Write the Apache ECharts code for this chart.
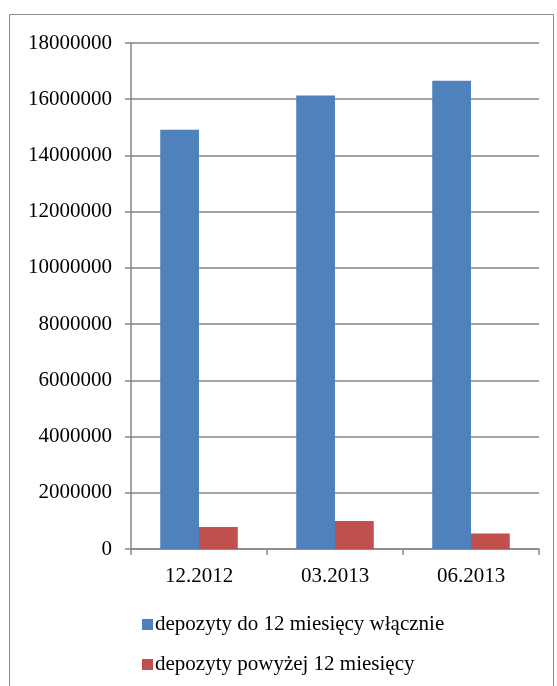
<!DOCTYPE html>
<html>
<head>
<meta charset="utf-8">
<script src="https://cdn.jsdelivr.net/npm/echarts@6/dist/echarts.min.js"></script>
<style>
  html, body { margin: 0; padding: 0; background: #fff; }
  #chart { width: 557px; height: 686px; }
</style>
</head>
<body>
<div id="chart"></div>
<script>
// Deposit volumes by reporting period
const categories = ['12.2012', '03.2013', '06.2013'];
const seriesNames = ['depozyty do 12 miesięcy włącznie', 'depozyty powyżej 12 miesięcy'];
const shortTerm = [14910000, 16130000, 16660000];
const longTerm = [780000, 1000000, 550000];
const yMin = 0, yMax = 18000000, yStep = 2000000;

const font = '"Liberation Serif", "Times New Roman", serif';
const axisGray = '#868686';

const chart = echarts.init(document.getElementById('chart'));
chart.setOption({
  animation: false,
  backgroundColor: '#ffffff',
  graphic: [{
    type: 'rect',
    shape: { x: 9.5, y: 14.5, width: 544, height: 700 },
    style: { fill: 'none', stroke: '#8a8a8a', lineWidth: 1 },
    silent: true
  }],
  grid: { left: 131, right: 18, top: 43, bottom: 137 },
  legend: {
    orient: 'vertical',
    left: 137,
    top: 609,
    itemWidth: 11,
    itemHeight: 11,
    itemGap: 19,
    icon: 'rect',
    textStyle: { fontFamily: font, fontSize: 21, color: '#000', padding: [0, 0, 0, -3] },
    data: seriesNames
  },
  xAxis: {
    type: 'category',
    data: categories,
    axisLine: { lineStyle: { color: axisGray, width: 1.5 } },
    axisTick: { show: true, length: 6, lineStyle: { color: axisGray, width: 1.5 } },
    axisLabel: { fontFamily: font, fontSize: 21, color: '#000', margin: 17 }
  },
  yAxis: {
    type: 'value',
    min: yMin,
    max: yMax,
    interval: yStep,
    axisLine: { show: true, lineStyle: { color: axisGray, width: 1.5 } },
    axisTick: { show: true, length: 6, lineStyle: { color: axisGray, width: 1.5 } },
    splitLine: { lineStyle: { color: axisGray, width: 1.5 } },
    axisLabel: { fontFamily: font, fontSize: 21, color: '#000', margin: 19, formatter: v => String(v) }
  },
  series: [
    {
      name: seriesNames[0],
      type: 'bar',
      data: shortTerm,
      itemStyle: { color: '#4F81BD' },
      barGap: '0%',
      barCategoryGap: '43%'
    },
    {
      name: seriesNames[1],
      type: 'bar',
      data: longTerm,
      itemStyle: { color: '#C0504D' },
      barGap: '0%',
      barCategoryGap: '43%'
    }
  ]
});
</script>
</body>
</html>
